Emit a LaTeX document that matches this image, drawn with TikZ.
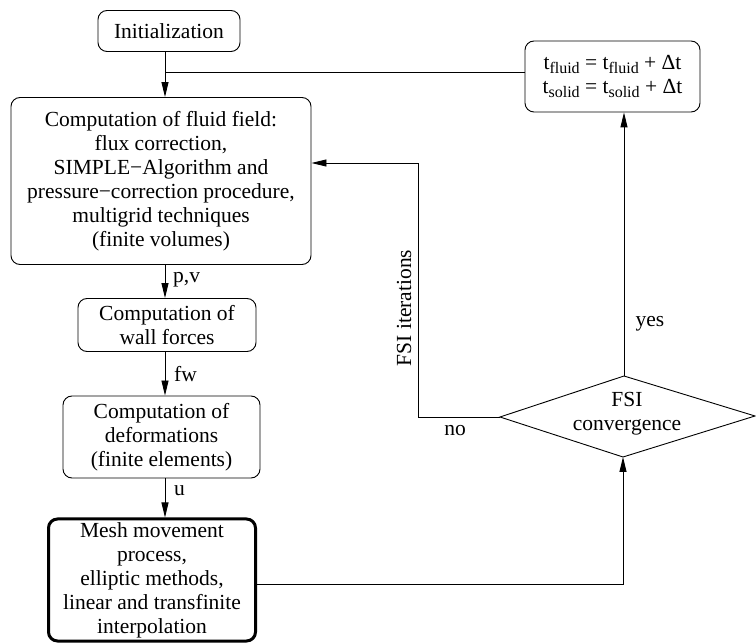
\documentclass[tikz,border=0pt]{standalone}
\usepackage{fontspec}
\setmainfont{Liberation Serif}
\usetikzlibrary{arrows.meta,calc}
\newcommand{\mysub}[1]{\raisebox{-0.4ex}{\fontsize{16}{16}\selectfont #1}}
\begin{document}
\begin{tikzpicture}[x=1pt,y=-1pt,
  box/.style={draw,rounded corners=9pt,line width=0.9pt,align=center,inner sep=0pt,font=\fontsize{21.5}{24}\selectfont},
  conn/.style={line width=0.9pt},
  arr/.style={conn,-{Triangle[length=15pt,width=7pt]}},
  lbl/.style={font=\fontsize{21.5}{24}\selectfont,inner sep=0pt,align=center}]
\useasboundingbox (0,0) rectangle (756,644);
\node[box,minimum width=142pt,minimum height=41pt] (init) at (169,31) {Initialization};
\node[box,minimum width=300pt,minimum height=167pt] (fluid) at (161,181) {Computation of fluid field:\\flux correction,\\SIMPLE−Algorithm and\\pressure−correction procedure,\\multigrid techniques\\(finite volumes)};
\node[box,minimum width=178pt,minimum height=53pt] (wall) at (167,325) {Computation of\\wall forces};
\node[box,minimum width=197pt,minimum height=82pt] (deform) at (161.5,437) {Computation of\\deformations\\(finite elements)};
\node[box,line width=3pt,minimum width=207pt,minimum height=122pt] (mesh) at (152,580) {Mesh movement\\process,\\elliptic methods,\\linear and transfinite\\interpolation};
\node[box,minimum width=175pt,minimum height=71pt] (tbox) at (612.5,76.5) {t\mysub{fluid} = t\mysub{fluid} + Δt\\t\mysub{solid} = t\mysub{solid} + Δt};
% diamond
\coordinate (dL) at (500,417);
\coordinate (dT) at (624,376);
\coordinate (dR) at (755,416);
\coordinate (dB) at (623,457);
\draw[conn] (dL) -- (dT) -- (dR) -- (dB) -- cycle;
\node[lbl] (dtext) at (627,414) {FSI\\convergence};
% spine connectors
\coordinate (spine) at (165,0);
\coordinate (join) at (165,72);
\draw[arr] (init.south -| spine) -- (fluid.north -| spine);
\draw[conn] (tbox.west |- join) -- (join);
\draw[arr] (fluid.south -| spine) -- (wall.north -| spine);
\draw[arr] (wall.south -| spine) -- (deform.north -| spine);
\draw[arr] (deform.south -| spine) -- (mesh.north -| spine);
% loop
\coordinate (ret) at (418,163);
\draw[arr] (dL) -- (dL -| ret) -- (ret) -- (ret -| fluid.east);
\draw[arr] (dT) -- (dT |- tbox.south);
\coordinate (mout) at (256,584);
\draw[arr] (mesh.east |- mout) -- (mout -| dB) -- (dB);
% labels
\node[lbl,anchor=west] (lpv) at (173,280) {p,v};
\node[lbl,anchor=west] (lfw) at (174,374) {fw};
\node[lbl,anchor=west] (lu) at (174,491) {u};
\node[lbl] (lno) at (455,431) {no};
\node[lbl] (lyes) at (650,324) {yes};
\node[lbl,rotate=90] (lit) at (404,308) {FSI iterations};
\end{tikzpicture}
\end{document}
